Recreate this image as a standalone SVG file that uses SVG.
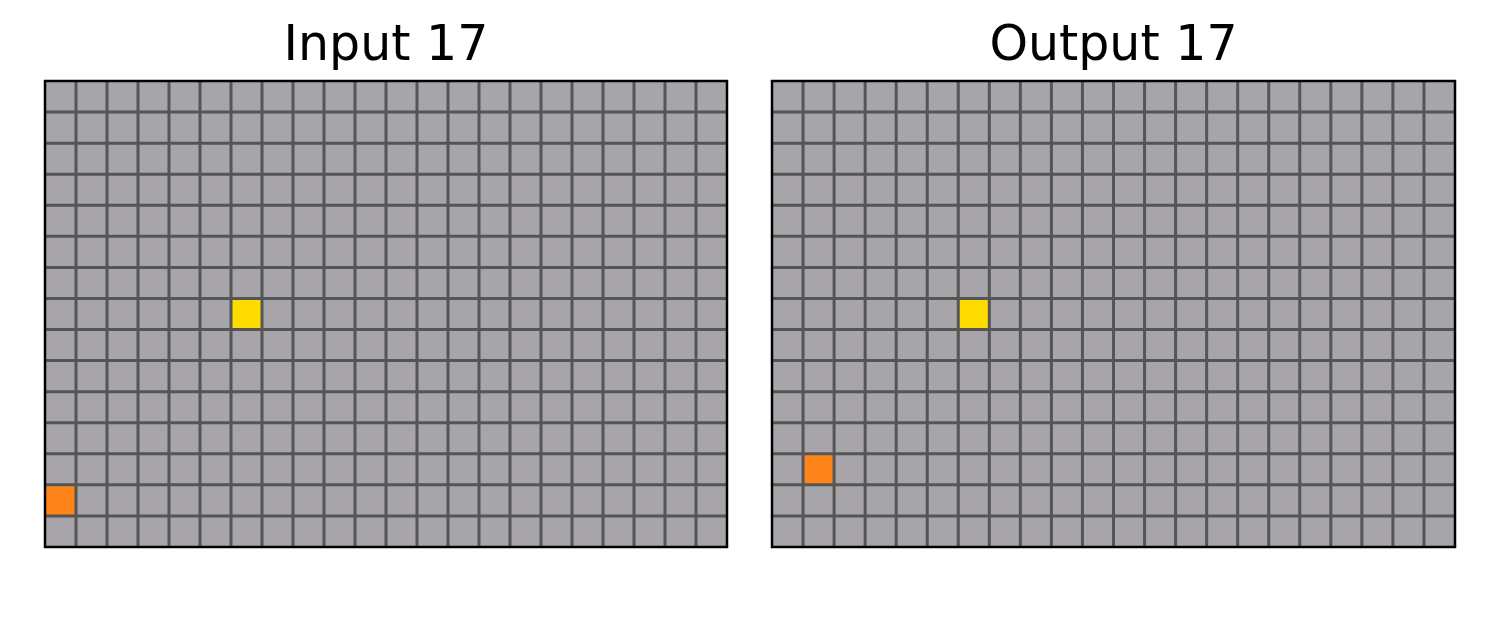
<svg xmlns="http://www.w3.org/2000/svg" width="1500" height="629" viewBox="0 0 1500 629">
<style>
.title{font-family:"DejaVu Sans",sans-serif;font-size:49px;fill:#000;text-anchor:middle}
.bg{fill:#a7a5a9}
.gl{stroke:#555555;stroke-width:3;fill:none}
.frame{fill:none;stroke:#000;stroke-width:2.5}
.y{fill:#ffdc00}
.o{fill:#ff851b}
</style>
<rect width="1500" height="629" fill="#fff"/>
<g id="input">
<text class="title" x="386" y="60">Input 17</text>
<rect class="bg" x="45" y="81" width="682" height="466"/>
<rect class="y" x="231" y="298.5" width="31" height="31.07"/>
<rect class="o" x="45" y="484.9" width="31" height="31.07"/>
<path class="gl" d="M76 81V547M107 81V547M138 81V547M169 81V547M200 81V547M231 81V547M262 81V547M293 81V547M324 81V547M355 81V547M386 81V547M417 81V547M448 81V547M479 81V547M510 81V547M541 81V547M572 81V547M603 81V547M634 81V547M665 81V547M696 81V547M45 112.07H727M45 143.13H727M45 174.2H727M45 205.27H727M45 236.33H727M45 267.4H727M45 298.47H727M45 329.53H727M45 360.6H727M45 391.67H727M45 422.73H727M45 453.8H727M45 484.87H727M45 515.93H727"/>
<rect class="frame" x="45" y="81" width="682" height="466"/>
</g>
<g id="output">
<text class="title" x="1113.5" y="60">Output 17</text>
<rect class="bg" x="772" y="81" width="683" height="466"/>
<rect class="y" x="958.3" y="298.5" width="31.05" height="31.07"/>
<rect class="o" x="803" y="453.8" width="31.05" height="31.07"/>
<path class="gl" d="M803.05 81V547M834.09 81V547M865.14 81V547M896.18 81V547M927.23 81V547M958.27 81V547M989.32 81V547M1020.36 81V547M1051.41 81V547M1082.45 81V547M1113.5 81V547M1144.55 81V547M1175.59 81V547M1206.64 81V547M1237.68 81V547M1268.73 81V547M1299.77 81V547M1330.82 81V547M1361.86 81V547M1392.91 81V547M1423.95 81V547M772 112.07H1455M772 143.13H1455M772 174.2H1455M772 205.27H1455M772 236.33H1455M772 267.4H1455M772 298.47H1455M772 329.53H1455M772 360.6H1455M772 391.67H1455M772 422.73H1455M772 453.8H1455M772 484.87H1455M772 515.93H1455"/>
<rect class="frame" x="772" y="81" width="683" height="466"/>
</g>
</svg>
